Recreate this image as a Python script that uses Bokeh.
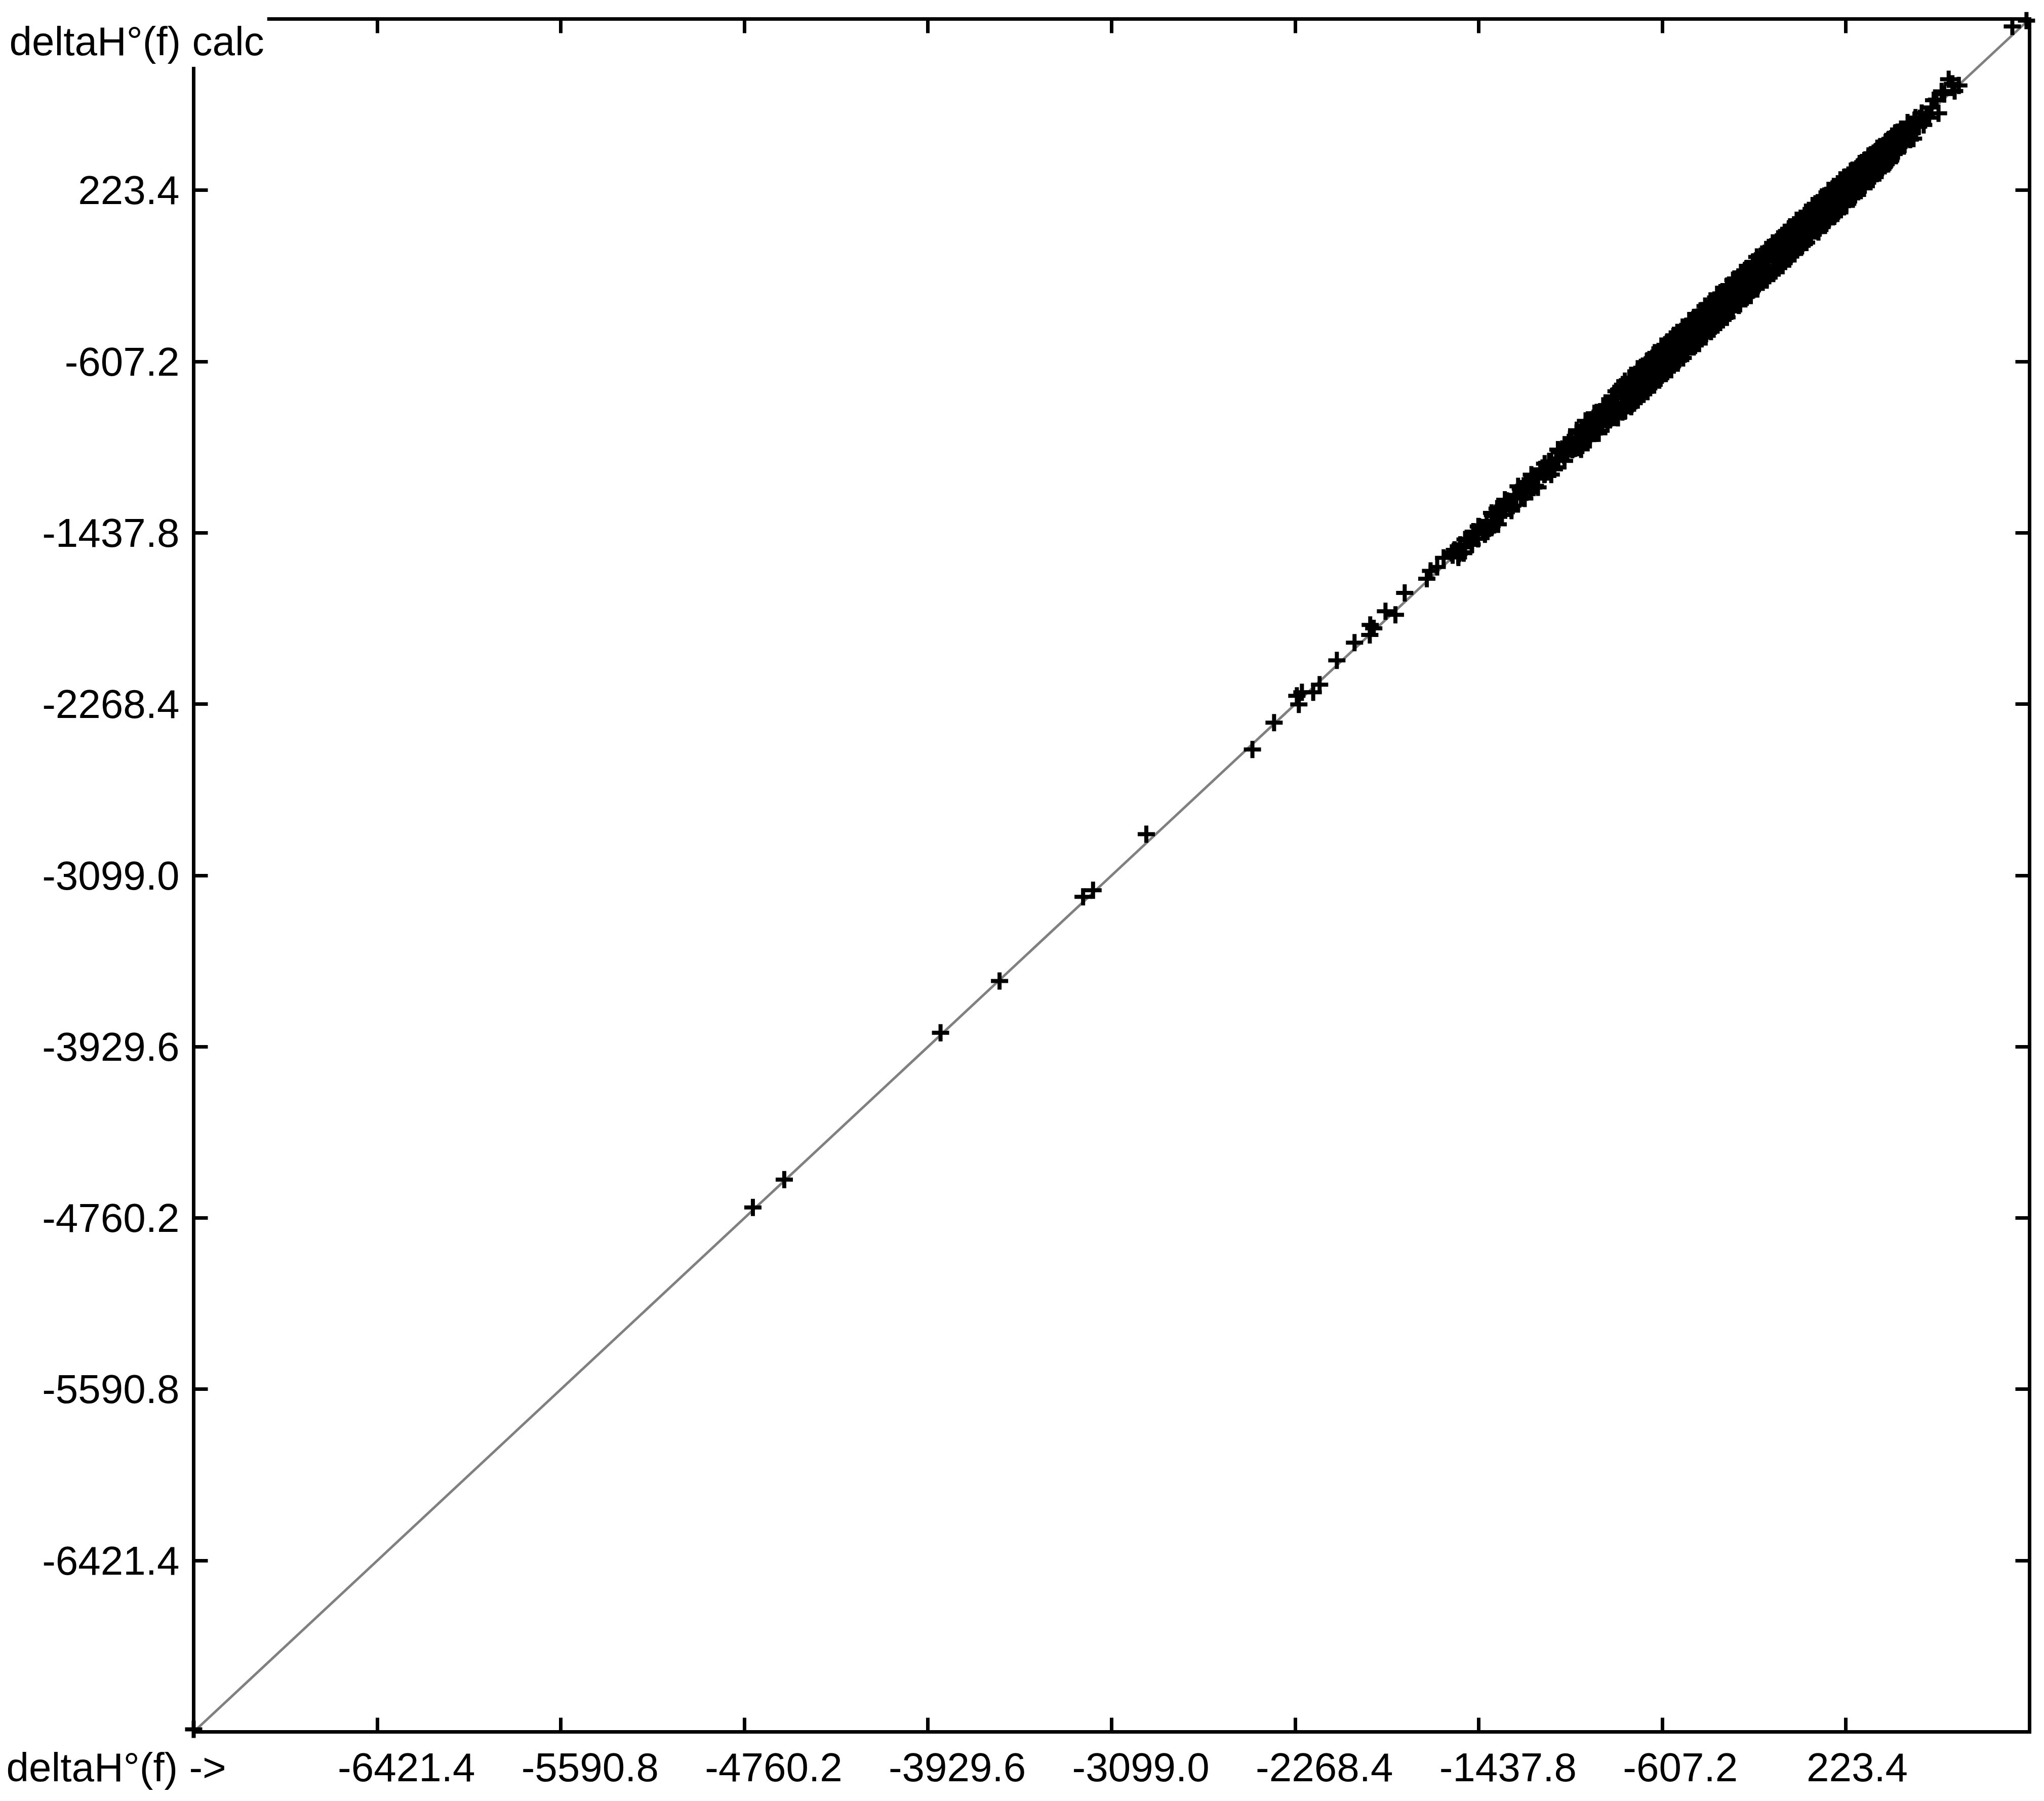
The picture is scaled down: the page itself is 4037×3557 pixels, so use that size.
from bokeh.plotting import figure
from bokeh.models import Range1d, LinearAxis, FixedTicker, Label, CustomLabelingPolicy
from bokeh.core.properties import value
from bokeh.embed import file_html
from bokeh.resources import INLINE

# ---- data -------------------------------------------------------------
AXIS_MIN = -7252.0
AXIS_MAX = 1054.0

tick_values = [-6421.4, -5590.8, -4760.2, -3929.6, -3099.0, -2268.4, -1437.8, -607.2, 223.4]
tick_labels = ["-6421.4", "-5590.8", "-4760.2", "-3929.6", "-3099.0", "-2268.4", "-1437.8", "-607.2", "223.4"]

x_title = "deltaH\u00b0(f) ->"
y_title = "deltaH\u00b0(f) calc"

# experimental deltaH(f) (x) and calculated deltaH(f) (y)
sparse_exp = [-7252, -4722, -4580, -3873, -3606, -3228, -3183, -2942, -2462, -2364,
              -2261, -2238, -2252, -2187, -2158, -2080, -2000, -1929, -1931, -1913,
              -1860, -1815, -1773, -1673, -1656, -1626, -1597]
sparse_calc = [-7240, -4709, -4574, -3862, -3611, -3203, -3171, -2899, -2488, -2358,
               -2228, -2211, -2270, -2211, -2174, -2056, -1970, -1884, -1933, -1901,
               -1818, -1835, -1729, -1660, -1622, -1603, -1559]

band_a_exp = [-1540, -1512, -1480, -1455, -1420, -1391, -1360, -1330, -1296, -1268,
              -1235, -1204, -1170, -1142, -1110, -1078, -1049, -1015, -986, -952,
              -921, -890, -858, -826,
              -1556, -1531, -1522, -1500, -1490, -1468, -1446, -1436, -1410, -1402,
              -1378, -1368, -1345, -1318, -1308, -1284, -1277, -1250, -1222, -1214,
              -1190, -1180, -1158, -1128, -1120, -1096, -1088, -1063, -1036, -1027,
              -1002, -994, -968, -940, -931, -906, -898, -872, -845, -812,
              -1548, -1527, -1506, -1485, -1463, -1441, -1420, -1398, -1376, -1355,
              -1333, -1312, -1290, -1268, -1247, -1225, -1204, -1182, -1160, -1139,
              -1117, -1096, -1074, -1052, -1031, -1010,
              -1560, -1530, -1500, -1470, -1440, -1410, -1380, -1350, -1320, -1290,
              -1260, -1230, -1200, -1170, -1140, -1110, -1080, -1050, -1020]
band_a_calc = [-1525, -1532, -1475, -1433, -1432, -1416, -1350, -1310, -1312, -1265,
               -1210, -1226, -1162, -1155, -1092, -1084, -1025, -1035, -974, -955,
               -900, -908, -852, -840,
               -1546, -1549, -1496, -1508, -1470, -1493, -1439, -1408, -1424, -1380,
               -1405, -1356, -1315, -1328, -1284, -1306, -1268, -1223, -1241, -1198,
               -1218, -1175, -1137, -1143, -1091, -1120, -1077, -1040, -1053, -1019,
               -1028, -975, -965, -961, -904, -915, -873, -888, -831, -835,
               -1520, -1539, -1536, -1467, -1432, -1467, -1412, -1431, -1352, -1320,
               -1351, -1283, -1321, -1254, -1269, -1192, -1198, -1210, -1130, -1154,
               -1097, -1130, -1047, -1061, -999, -1030,
               -1535, -1557, -1470, -1496, -1407, -1445, -1341, -1396, -1277, -1330,
               -1212, -1271, -1156, -1217, -1102, -1155, -1034, -1089, -978]

band_b_exp = [-798, -779, -760, -741, -720, -702, -683, -661, -642, -623,
              -604, -585, -563, -546, -525, -507, -488, -467, -448, -429,
              -410, -389, -372, -351, -332, -313, -294, -275, -255, -236,
              -216, -198, -178, -159, -140, -121, -100, -82, -63, -44,
              -23, -5, 14, 33, 52, 71, 92, 110, 129, 148,
              168, 187, 206, 225, 246, 264, 283, 302, 322, 341,
              360, 380, 399, 418, 437, 457, 476, 495, 514, 533, 552]
band_b_calc = [-753, -829, -750, -771, -660, -717, -648, -716, -622, -663,
               -554, -580, -623, -516, -545, -452, -533, -452, -483, -367,
               -420, -349, -430, -326, -362, -265, -346, -267, -280, -178,
               -256, -180, -240, -124, -152, -71, -148, -60, -91, 16,
               -58, 7, -41, 75, 34, 123, 47, 116, 91, 205,
               146, 217, 146, 270, 238, 302, 233, 322, 280, 396,
               335, 390, 342, 458, 422, 505, 441, 520, 469, 563, 532]

band_c_exp = [-790, -781, -771, -762, -754, -745, -735, -726, -717, -708,
              -699, -690, -680, -672, -663, -653, -645, -636, -626, -617,
              -609, -599, -590, -581, -572, -563, -554, -544, -536, -527,
              -518, -508, -500, -491, -481, -473, -463, -454, -445, -436,
              -427, -418, -409, -399, -391, -382, -373, -363, -355, -345,
              -337, -327, -318, -309, -300, -291, -282, -272, -264, -254,
              -246, -236, -227, -218, -209, -200, -190, -182, -173, -163,
              -155, -145, -136, -127, -118, -109, -100, -91, -81, -73,
              -63, -54, -45, -36, -27, -18, -9, 1, 10, 19,
              28, 37, 46, 56, 64, 74, 83, 92, 101, 110,
              119, 128, 138, 146, 156, 165, 174, 183, 192, 201,
              210, 220, 228, 238, 247, 256, 265, 274, 283, 292,
              301, 311, 320, 329, 338, 347, 356, 365, 374, 383,
              393, 401, 411, 420, 429, 438, 447, 456, 466, 474,
              484, 493, 502, 511, 520, 529, 538, 547]
band_c_calc = [-825, -729, -779, -735, -815, -705, -721, -773, -659, -728,
               -666, -745, -674, -623, -691, -591, -686, -618, -692, -580,
               -621, -555, -643, -557, -515, -596, -551, -603, -507, -477,
               -562, -497, -437, -517, -442, -530, -442, -460, -391, -474,
               -381, -436, -472, -368, -382, -322, -422, -337, -386, -290,
               -341, -285, -376, -292, -236, -327, -247, -324, -256, -277,
               -195, -281, -205, -159, -223, -262, -152, -181, -213, -116,
               -182, -84, -186, -114, -75, -174, -72, -100, -25, -107,
               -44, -102, 20, -57, 9, -74, -4, 49, -27, 42,
               -32, 71, 30, 109, 21, 84, 141, 63, 142, 56,
               144, 125, 87, 191, 132, 228, 135, 198, 242, 155,
               240, 156, 235, 282, 215, 313, 246, 221, 322, 304,
               259, 371, 295, 349, 280, 382, 408, 354, 327, 411,
               441, 365, 427, 359, 472, 416, 502, 406, 472, 507,
               440, 517, 552, 481, 531, 474, 576, 531]

band_d_exp = [-996, -987, -979, -969, -960, -951, -943, -934, -925, -915,
              -907, -898, -889, -880, -871, -862, -853, -844, -835, -826,
              -817, -808, -799, -788, -777, -767, -757, -748, -738, -729,
              -719, -711, -700, -692, -683, -674, -666, -656, -648, -639,
              -630, -621, -612, -603, -594, -585, -576, -567, -558, -549,
              -540, -531, -522, -513, -504, -495, -486, -477, -468, -459,
              -450, -441, -432, -423, -414, -405, -396, -387, -378, -369,
              -360, -351, -342, -333, -324, -315, -306, -297, -288, -279,
              -270, -261, -252, -243, -234, -225, -216, -207, -198, -189,
              -180, -171, -162, -153, -144, -135, -126, -117, -108, -99,
              -90, -81, -72, -63, -54, -45, -36, -27, -18, -9,
              0, 9, 18, 27, 36, 45, 54, 63, 72, 81,
              90, 99, 108, 117, 126, 135, 144, 153, 162, 171,
              180, 189, 198, 207, 216, 225, 234, 243, 252, 261,
              270, 279, 288, 297, 306, 315, 324, 333, 342, 351,
              360, 369, 378, 387, 396, 405, 414, 423, 432, 441,
              450, 459, 468]
band_d_calc = [-954, -1025, -949, -1014, -942, -984, -899, -961, -889, -956,
               -882, -942, -850, -910, -826, -883, -820, -890, -807, -863,
               -751, -880, -741, -852, -702, -822, -687, -826, -686, -797,
               -642, -771, -637, -766, -627, -753, -597, -713, -575, -705,
               -571, -697, -532, -665, -527, -656, -522, -647, -486, -607,
               -466, -596, -461, -590, -454, -568, -408, -533, -404, -529,
               -393, -520, -361, -484, -338, -459, -328, -462, -318, -436,
               -281, -409, -277, -405, -271, -393, -236, -360, -213, -331,
               -208, -335, -175, -302, -165, -291, -161, -287, -125, -253,
               -100, -228, -96, -223, -86, -212, -54, -178, -32, -154,
               -27, -154, -15, -142, 20, -105, 32, -98, 34, -85,
               78, -53, 88, -29, 101, -30, 113, -6, 149, 28,
               151, 21, 181, 53, 182, 63, 223, 95, 229, 97,
               234, 123, 274, 147, 287, 148, 297, 188, 320, 190,
               328, 216, 337, 240, 368, 265, 379, 272, 389, 292,
               412, 321, 435, 334, 440, 350, 464, 377, 486, 399,
               490, 414, 506]

band_e_exp = [-992, -977, -962, -947, -932, -917, -902, -887, -872, -857,
              -842, -827, -812, -797, -782, -767, -752, -737, -722, -707,
              -692, -677, -662, -647, -632, -617, -602, -587, -572, -557,
              -542, -527, -512, -497, -482, -467, -452, -437, -422, -407,
              -392, -377, -362, -347, -332, -317, -302, -287, -272, -257,
              -242, -227, -212, -197, -182, -167, -152, -137, -122, -107,
              -92, -77, -62, -47, -32, -17, -2, 13, 28, 43,
              58, 73, 88, 103, 118, 133, 148, 163, 178, 193,
              208, 223, 238, 253, 268, 283, 298, 313, 328, 343,
              358, 373, 388, 403, 418, 433, 448, 463, 478, 493,
              508, 523, 538, 553]
band_e_calc = [-980, -1002, -932, -955, -912, -950, -897, -860, -888, -822,
               -883, -809, -815, -753, -811, -758, -714, -759, -707, -753,
               -666, -688, -615, -682, -630, -577, -621, -556, -616, -550,
               -569, -484, -518, -476, -521, -433, -465, -389, -454, -391,
               -353, -397, -358, -392, -304, -326, -257, -323, -259, -281,
               -209, -228, -254, -175, -136, -197, -142, -184, -85, -121,
               -73, -35, -99, -41, -55, 32, -12, 42, -15, 67,
               53, 109, 60, 150, 100, 147, 108, 195, 170, 234,
               174, 246, 249, 205, 306, 268, 325, 274, 331, 387,
               337, 403, 344, 420, 426, 400, 484, 451, 503, 465,
               523, 503, 560, 544]

band_g_exp = [-995, -975, -955, -935, -915, -895, -875, -855, -835, -815,
              -795, -775, -755, -735, -715, -695, -675, -655, -635, -615,
              -595, -575, -555, -535, -515, -495, -475, -455, -435, -415,
              -395, -375, -355, -335, -315, -295, -275, -255, -235, -215,
              -195, -175, -155, -135, -115, -95, -75, -55, -35, -15,
              5, 25, 45, 65, 85, 105, 125, 145, 165, 185,
              205, 225, 245, 265, 285, 305, 325, 345, 365, 385,
              405, 425, 445]
band_g_calc = [-940, -1033, -895, -987, -858, -955, -822, -911, -776, -869,
               -729, -845, -692, -809, -647, -760, -603, -722, -571, -688,
               -526, -637, -480, -603, -450, -566, -408, -519, -362, -481,
               -333, -450, -285, -398, -241, -364, -209, -327, -172, -283,
               -124, -239, -87, -205, -50, -168, -6, -121, 37, -77,
               72, -46, 109, -4, 158, 40, 195, 77, 231, 111,
               268, 158, 316, 201, 353, 233, 390, 275, 427, 319,
               460, 367, 497]

top_exp = [558, 566, 575, 587, 600, 610, 620, 633, 642, 656, 668, 688, 705, 715, 734, 976, 1040]
top_calc = [573, 598, 540, 590, 575, 625, 660, 663, 597, 703, 690, 762, 740, 705, 732, 1018, 1046]

dh_exp = (sparse_exp + band_a_exp + band_b_exp + band_c_exp + band_d_exp
          + band_e_exp + band_g_exp + top_exp)
dh_calc = (sparse_calc + band_a_calc + band_b_calc + band_c_calc + band_d_calc
           + band_e_calc + band_g_calc + top_calc)

# ---- layout constants (pixels inside the figure) ------------------------
FONT = "Liberation Sans"
FONT_SIZE = "80px"
PLOT_W, PLOT_H = 4021, 3540
AX_LEFT_PX, AX_RIGHT_PX = 382, 4008
AX_TOP_PX, AX_BOTTOM_PX = 37, 3420

sx = (AXIS_MAX - AXIS_MIN) / (AX_RIGHT_PX - AX_LEFT_PX)
sy = (AXIS_MAX - AXIS_MIN) / (AX_BOTTOM_PX - AX_TOP_PX)
x_lo = AXIS_MIN - AX_LEFT_PX * sx
x_hi = AXIS_MAX + (PLOT_W - AX_RIGHT_PX) * sx
y_hi = AXIS_MAX + AX_TOP_PX * sy
y_lo = AXIS_MIN - (PLOT_H - AX_BOTTOM_PX) * sy

# ---- figure -------------------------------------------------------------
p = figure(width=PLOT_W, height=PLOT_H, output_backend="svg", toolbar_location=None,
           x_range=Range1d(x_lo, x_hi), y_range=Range1d(y_lo, y_hi),
           x_axis_location=None, y_axis_location=None, min_border=0)
p.min_border_left = p.min_border_right = p.min_border_top = p.min_border_bottom = 0
p.outline_line_color = None
p.background_fill_color = "white"
p.border_fill_color = "white"
p.xgrid.grid_line_color = None
p.ygrid.grid_line_color = None
p.xgrid.visible = False
p.ygrid.visible = False


def make_axis(loc):
    ax = LinearAxis(ticker=FixedTicker(ticks=tick_values, minor_ticks=[]),
                    fixed_location=loc, bounds=(AXIS_MIN, AXIS_MAX),
                    major_label_policy=CustomLabelingPolicy(code="return []"))
    ax.axis_line_width = 7
    ax.axis_line_color = "black"
    ax.axis_line_cap = "square"
    ax.major_tick_in = 28
    ax.major_tick_out = 0
    ax.major_tick_line_width = 7
    ax.major_tick_line_color = "black"
    ax.minor_tick_line_color = None
    return ax


p.add_layout(make_axis(AXIS_MIN), "below")
p.add_layout(make_axis(AXIS_MIN), "left")
p.add_layout(make_axis(AXIS_MAX), "above")
p.add_layout(make_axis(AXIS_MAX), "right")

# y = x reference line
p.line([AXIS_MIN, AXIS_MAX], [AXIS_MIN, AXIS_MAX], line_color="#808080", line_width=5)

# data points
p.scatter(dh_exp, dh_calc, marker="cross", size=34, line_color="black", line_width=8)

# tick labels
p.text(x=tick_values, y=[AXIS_MIN] * len(tick_values), text=tick_labels,
       x_offset=-78, y_offset=70, text_align="left", text_baseline="middle",
       text_font=value(FONT), text_font_size=value(FONT_SIZE), text_color="black")
p.text(x=[AXIS_MIN] * len(tick_values), y=tick_values, text=tick_labels,
       x_offset=-28, y_offset=0, text_align="right", text_baseline="middle",
       text_font=value(FONT), text_font_size=value(FONT_SIZE), text_color="black")

# axis titles in the corners
p.text(x=[AXIS_MIN], y=[AXIS_MIN], text=[x_title], x_offset=-370, y_offset=70,
       text_align="left", text_baseline="middle",
       text_font=value(FONT), text_font_size=value(FONT_SIZE), text_color="black")
p.add_layout(Label(x=AXIS_MIN, y=AXIS_MAX, x_offset=-370, y_offset=-44, text=y_title,
                   text_font=FONT, text_font_size=FONT_SIZE, text_color="black",
                   text_baseline="middle", text_align="left",
                   background_fill_color="white", padding=6))

open("out.html", "w").write(file_html(p, INLINE))
